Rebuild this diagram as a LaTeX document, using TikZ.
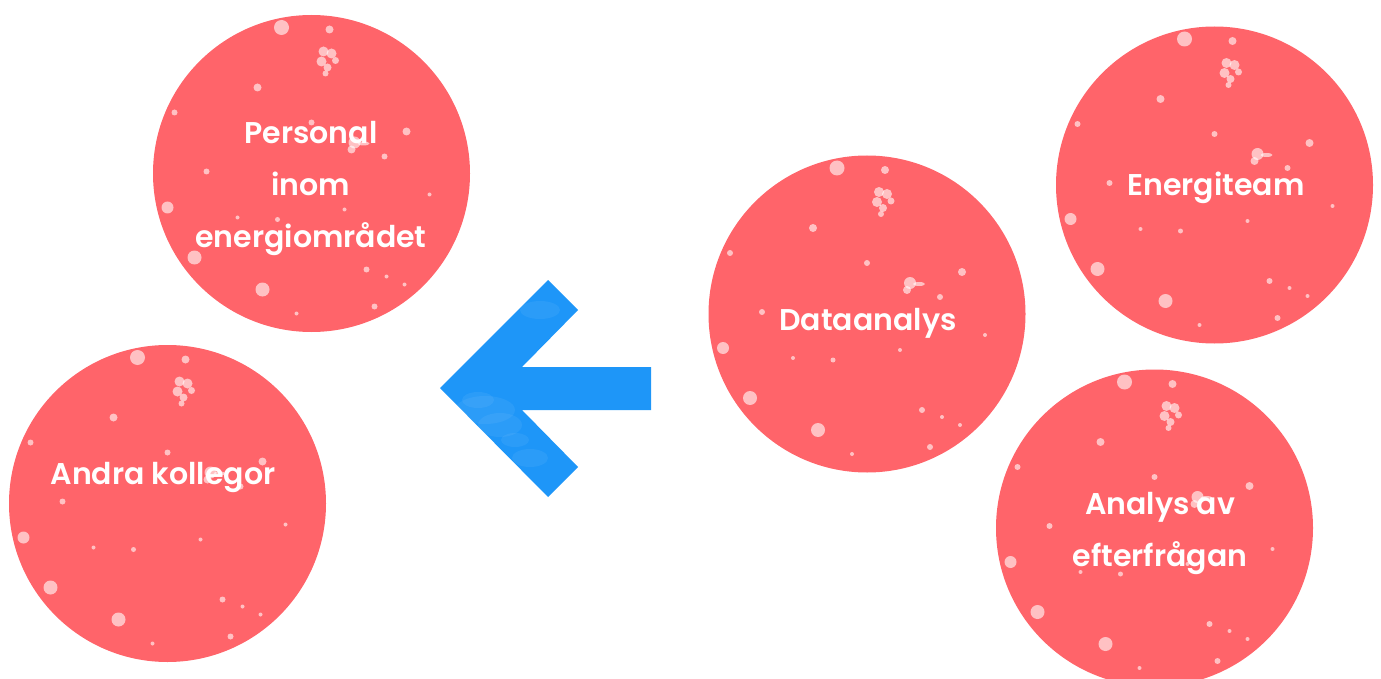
\documentclass[tikz,border=0pt]{standalone}
\usepackage{fontspec}
\setmainfont{Poppins}[UprightFont=* SemiBold]
\definecolor{coral}{RGB}{255,100,106}
\definecolor{skyblue}{RGB}{30,150,248}
\tikzset{
  bubble/.style={circle, fill=coral, minimum size=317pt, inner sep=0pt},
  caption/.style={text=white, font=\fontsize{30}{52}\selectfont, align=center, inner sep=0pt},
  speck/.style={fill=white, fill opacity=0.6},
  haze/.style={fill=white, fill opacity=0.06},
  pics/speckles/.style={code={
    \fill[speck] (-30,-146) circle (7.5);
    \fill[speck] (18,-144) circle (4);
    \fill[speck] (12,-122) circle (5);
    \fill[speck] (20,-120) circle (5);
    \fill[speck] (10,-112) circle (5);
    \fill[speck] (16,-106) circle (4);
    \fill[speck] (24,-113) circle (3.5);
    \fill[speck] (14,-100) circle (3);
    \fill[speck] (-54,-86) circle (4);
    \fill[speck] (0,-51) circle (3);
    \fill[speck] (-137,-61) circle (3);
    \fill[speck] (43,-31) circle (6);
    \fill[speck] (40,-24) circle (4);
    \fill[speck] (52,-30) ellipse (6 and 2);
    \fill[speck] (95,-42) circle (4);
    \fill[speck] (73,-17) circle (3);
    \fill[speck] (-105,-2) circle (3);
    \fill[speck] (-144,34) circle (6);
    \fill[speck] (33,36) circle (2);
    \fill[speck] (118,21) circle (2);
    \fill[speck] (-34,46) circle (2.5);
    \fill[speck] (-74,44) circle (2);
    \fill[speck] (-117,84) circle (7);
    \fill[speck] (55,96) circle (3);
    \fill[speck] (75,103) circle (2);
    \fill[speck] (93,111) circle (2);
    \fill[speck] (-49,116) circle (7);
    \fill[speck] (63,133) circle (3);
    \fill[speck] (-15,140) circle (2);
  }}
}
\begin{document}
\begin{tikzpicture}[x=1pt, y=-1pt]
  \useasboundingbox (0,0) rectangle (1381,679);

  % circles
  \node[bubble] (personal) at (311.5,173.5) {};
  \node[bubble] (andra) at (167.5,503.5) {};
  \node[bubble] (data) at (867,314) {};
  \node[bubble] (energi) at (1214.5,185) {};
  \node[bubble] (analys) at (1154.5,528) {};

  % light speckle texture on each circle
  \foreach \c in {personal, andra, data, energi, analys}
    \pic at (\c.center) {speckles};

  % captions
  \node[caption] (tpersonal) at (311,188) {Personal\\inom\\energiområdet};
  \node[caption] (tandra) at (163,477) {Andra kollegor};
  \node[caption] (tdata) at (868,323) {Dataanalys};
  \node[caption] (tenergi) at (1216,188) {Energiteam};
  \node[caption] (tanalys) at (1160,533) {Analys av\\efterfrågan};

  % left-pointing arrow with a faint mottled sheen
  \fill[skyblue] (440,388) -- (548,280) -- (578,310) -- (522,367) -- (651,367)
    -- (651,410) -- (522,410) -- (578,467) -- (548,497) -- cycle;
  \begin{scope}
    \clip (440,388) -- (548,280) -- (578,310) -- (522,367) -- (651,367)
      -- (651,410) -- (522,410) -- (578,467) -- (548,497) -- cycle;
    \foreach \px/\py/\rx/\ry in {485/410/30/14, 500/425/22/12, 478/400/16/8,
                                 540/310/20/9, 530/458/18/9, 515/440/14/7}
      \fill[haze] (\px,\py) ellipse [x radius=\rx, y radius=\ry];
  \end{scope}
\end{tikzpicture}
\end{document}
